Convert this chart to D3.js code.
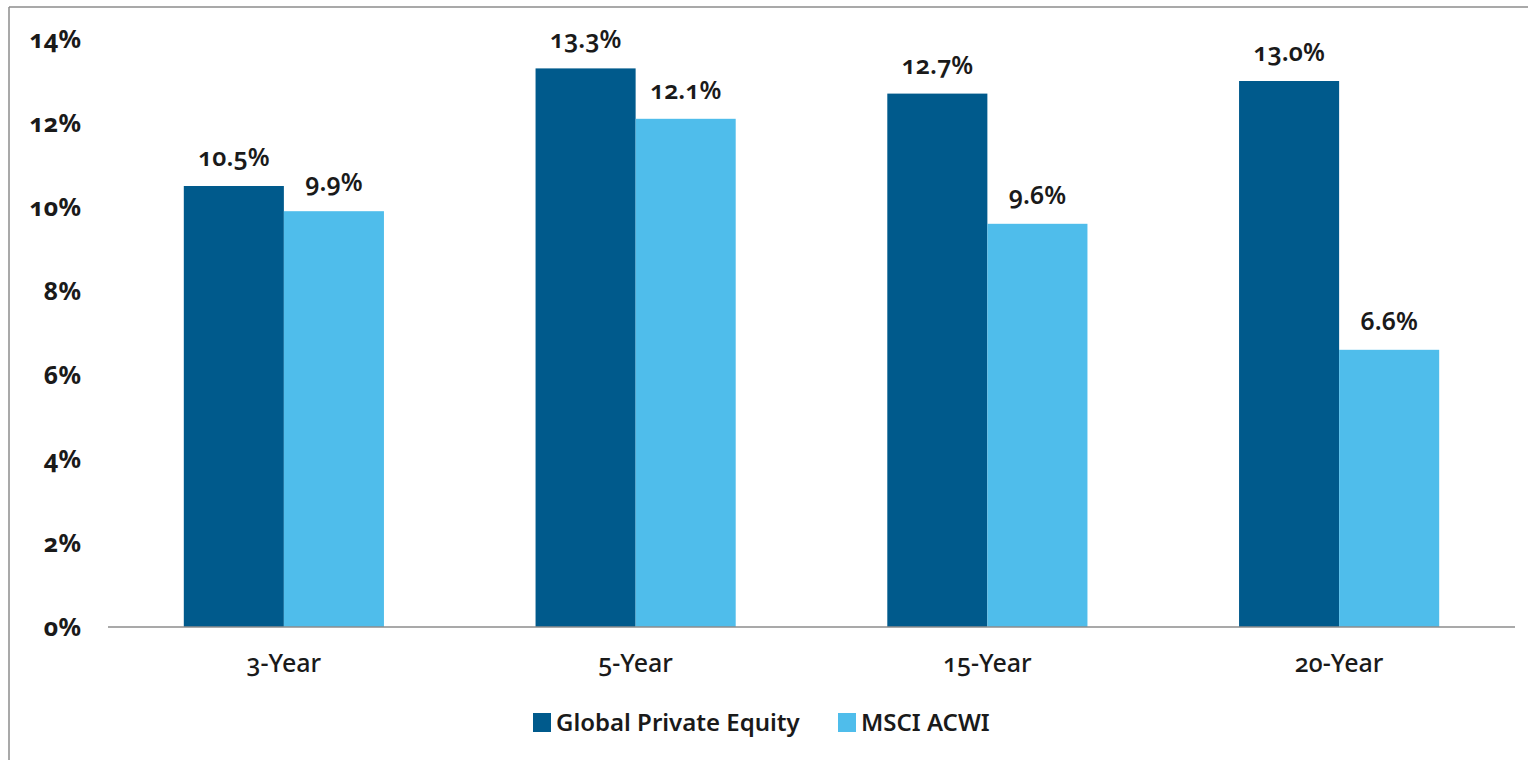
<!DOCTYPE html>
<html>
<head>
<meta charset="utf-8">
<script src="https://cdn.jsdelivr.net/npm/d3@7"></script>
<style>
  body { margin: 0; background: #fff; }
  svg text { font-family: "Noto Sans", "Open Sans", sans-serif; font-variant-numeric: oldstyle-nums; fill: #1a1a1a; }
</style>
</head>
<body>
<svg id="chart" width="1528" height="760"></svg>
<script>
// 데이터
const categories = ["3-Year", "5-Year", "15-Year", "20-Year"];
const seriesNames = ["Global Private Equity", "MSCI ACWI"];
const privateEquity = [10.5, 13.3, 12.7, 13.0];
const msciAcwi = [9.9, 12.1, 9.6, 6.6];
const yTicks = [0, 2, 4, 6, 8, 10, 12, 14];

const colors = ["#005a8c", "#4fbdeb"];

const svg = d3.select("#chart");

// 테두리 (위/왼쪽)
svg.append("line").attr("x1", 9).attr("x2", 1528).attr("y1", 7).attr("y2", 7)
	.attr("stroke", "#8c8c8c").attr("stroke-width", 1.5);
svg.append("line").attr("x1", 9).attr("x2", 9).attr("y1", 7).attr("y2", 760)
	.attr("stroke", "#8c8c8c").attr("stroke-width", 1.5);

const plotLeft = 108, plotRight = 1515, plotTop = 39, plotBottom = 627;

const x0 = d3.scaleBand()
	.domain(categories)
	.range([plotLeft, plotRight])
	.padding(0);

const bw = x0.bandwidth();
const x1 = d3.scaleBand()
	.domain(seriesNames)
	.range([bw * 0.2155, bw * 0.7845]);

const y = d3.scaleLinear()
	.domain([0, 14])
	.range([plotBottom, plotTop]);

// y축 라벨
svg.append("g").selectAll("text")
	.data(yTicks)
	.enter().append("text")
	.attr("x", 81)
	.attr("y", d => y(d))
	.attr("dy", "0.35em")
	.attr("text-anchor", "end")
	.style("font-size", "25px")
	.style("font-weight", "bold")
	.text(d => d + "%");

// 막대
const rows = categories.map((c, i) => ({ cat: c, vals: [privateEquity[i], msciAcwi[i]] }));

const groups = svg.selectAll(".grp")
	.data(rows)
	.enter().append("g")
	.attr("class", "grp")
	.attr("transform", d => `translate(${x0(d.cat)},0)`);

groups.selectAll("rect")
	.data(d => d.vals.map((v, j) => ({ name: seriesNames[j], value: v, j: j })))
	.enter().append("rect")
	.attr("x", d => x1(d.name))
	.attr("width", x1.bandwidth())
	.attr("y", d => y(d.value))
	.attr("height", d => y(0) - y(d.value))
	.attr("fill", d => colors[d.j]);

groups.selectAll(".val")
	.data(d => d.vals.map((v, j) => ({ name: seriesNames[j], value: v, j: j })))
	.enter().append("text")
	.attr("class", "val")
	.attr("x", d => x1(d.name) + x1.bandwidth() / 2)
	.attr("y", d => y(d.value) - 20)
	.attr("text-anchor", "middle")
	.style("font-size", "25px")
	.style("font-weight", "600")
	.text(d => d.value.toFixed(1) + "%");

// x축
svg.append("line")
	.attr("x1", plotLeft).attr("x2", plotRight)
	.attr("y1", y(0)).attr("y2", y(0))
	.attr("stroke", "#8c8c8c").attr("stroke-width", 1.5);

svg.append("g").selectAll("text")
	.data(categories)
	.enter().append("text")
	.attr("x", d => x0(d) + bw / 2)
	.attr("y", 672)
	.attr("text-anchor", "middle")
	.style("font-size", "25px")
	.style("font-weight", "500")
	.text(d => d);

// 범례
const legendX = [533, 838];
const legend = svg.selectAll(".legend")
	.data(seriesNames)
	.enter().append("g")
	.attr("class", "legend")
	.attr("transform", (d, i) => `translate(${legendX[i]},713)`);

legend.append("rect")
	.attr("width", 18).attr("height", 19)
	.attr("fill", (d, i) => colors[i]);

legend.append("text")
	.attr("x", 23)
	.attr("y", 18)
	.style("font-size", "24px")
	.style("font-weight", "600")
	.text(d => d);
</script>
</body>
</html>
